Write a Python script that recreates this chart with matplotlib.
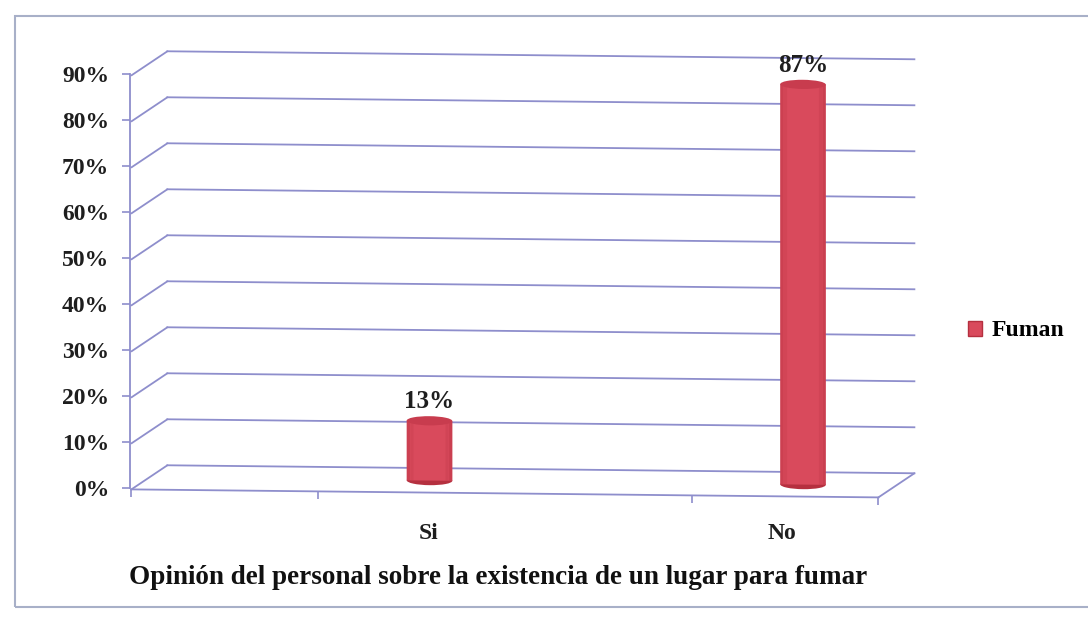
import matplotlib
matplotlib.use("Agg")
import matplotlib.pyplot as plt
from matplotlib.patches import Rectangle, Ellipse, ConnectionPatch, Patch
from matplotlib.transforms import ScaledTranslation, Affine2D
import matplotlib.markers as mmarkers

# ---- data ----
categories = ["Si", "No"]
values = [0.13, 0.87]
value_labels = ["13%", "87%"]
yticks = [0.0, 0.1, 0.2, 0.3, 0.4, 0.5, 0.6, 0.7, 0.8, 0.9]
ytick_labels = ["0%", "10%", "20%", "30%", "40%", "50%", "60%", "70%", "80%", "90%"]
series_name = "Fuman"
xlabel = "Opinión del personal sobre la existencia de un lugar para fumar"
cat_pos = [0.75, 1.75]

W, H, DPI = 1088, 623, 100
fig = plt.figure(figsize=(W / DPI, H / DPI), dpi=DPI)
fig.patch.set_facecolor("white")

ax_left, ax_right, ax_bot, ax_top = 130, 877, 488, 74
ax = fig.add_axes([ax_left / W, (H - ax_bot) / H, (ax_right - ax_left) / W, (ax_bot - ax_top) / H])
ax.set_xlim(0, 2)
ax.set_ylim(0, 0.9)
ax.patch.set_alpha(0)

serif = "Liberation Serif"
grid_col = "#8e8ecc"
bar_col = "#d94a5c"
bar_dark = "#b5303f"
bar_top = "#c83c4e"
txt_col = "#1e1e1e"

# perspective: slight skew and depth offset
k = 8.0 / 747.0
skew = Affine2D.from_values(1, -k, 0, 1, k * ax_left, 0)
front_tr = ax.transData + skew
back_tr = ax.transData + ScaledTranslation(0.36, 0.245, fig.dpi_scale_trans) + skew
mid_tr = ax.transData + ScaledTranslation(0.18, 0.12, fig.dpi_scale_trans) + skew

for sp in ["top", "right", "bottom"]:
    ax.spines[sp].set_visible(False)
ax.spines["left"].set_color(grid_col)
ax.spines["left"].set_linewidth(1.3)
ax.set_yticks(yticks)
ax.set_yticklabels(ytick_labels, fontfamily=serif, fontweight="bold", fontsize=17, color=txt_col)
ax.tick_params(axis="y", direction="out", length=6, width=1.2, color=grid_col, pad=9)
ax.set_xticks([])

# gridlines on left wall and back wall
for v in yticks:
    cp = ConnectionPatch(xyA=(0, v), coordsA=front_tr, xyB=(0, v), coordsB=back_tr,
                         color=grid_col, lw=1.3)
    fig.add_artist(cp)
    ax.plot([0, 2], [v, v], transform=back_tr, color=grid_col, lw=1.3, clip_on=False)

# floor
ax.plot([0, 2], [0, 0], transform=front_tr, color=grid_col, lw=1.3, clip_on=False)
fig.add_artist(ConnectionPatch(xyA=(2, 0), coordsA=front_tr, xyB=(2, 0), coordsB=back_tr,
                               color=grid_col, lw=1.3))
ax.plot([0, 0.5, 1.5, 2], [0, 0, 0, 0], transform=front_tr, linestyle="none",
        marker=mmarkers.TICKDOWN, markersize=6, markeredgewidth=1.2, color=grid_col, clip_on=False)

# cylinders
bw = 0.122
eh = 0.02
for x, v, lab in zip(cat_pos, values, value_labels):
    body = Rectangle((x - bw / 2, 0), bw, v, transform=mid_tr, facecolor=bar_col,
                     edgecolor="none", zorder=5, clip_on=False)
    ax.add_patch(body)
    # shading strips
    for frac, a in [(0.0, 0.35), (0.08, 0.18), (0.85, 0.2), (0.93, 0.4)]:
        ax.add_patch(Rectangle((x - bw / 2 + frac * bw, 0), 0.07 * bw, v, transform=mid_tr,
                               facecolor=bar_dark, alpha=a, edgecolor="none", zorder=6, clip_on=False))
    ax.add_patch(Ellipse((x, 0), bw, eh, transform=mid_tr, facecolor=bar_dark,
                         edgecolor="none", zorder=4, clip_on=False))
    ax.add_patch(Ellipse((x, v), bw, eh, transform=mid_tr, facecolor=bar_top,
                         edgecolor="none", zorder=7, clip_on=False))
    ax.text(x, v + 0.016, lab, transform=mid_tr, ha="center", va="bottom",
            fontfamily=serif, fontweight="bold", fontsize=18, color=txt_col, zorder=8)

# category labels
label_dx = [13, -1]  # points, visual nudge
for x, c, dx in zip(cat_pos, categories, label_dx):
    ax.annotate(c, (x, 0), xycoords=ax.transData, xytext=(dx, -33), textcoords="offset points",
                ha="center", va="center", fontfamily=serif, fontweight="bold", fontsize=17,
                color=txt_col, annotation_clip=False)

# axis title
fig.text(498 / W, 1 - 578 / H, xlabel, ha="center", va="center", fontfamily=serif,
         fontweight="bold", fontsize=19.5, color="#111111")

# legend
leg = fig.legend(handles=[Patch(facecolor=bar_col, edgecolor=bar_dark, label=series_name)],
                 loc="center left", bbox_to_anchor=(947 / W, 1 - 331 / H), frameon=False,
                 prop={"family": serif, "weight": "bold", "size": 17},
                 handlelength=0.6, handleheight=0.6, handletextpad=0.4)

# chart frame
fig.add_artist(Rectangle((15 / W, (H - 607) / H), 1.2, (607 - 16) / H, transform=fig.transFigure,
                         fill=False, edgecolor="#a8b0c8", lw=1.5))

fig.savefig("out.png", dpi=DPI)
